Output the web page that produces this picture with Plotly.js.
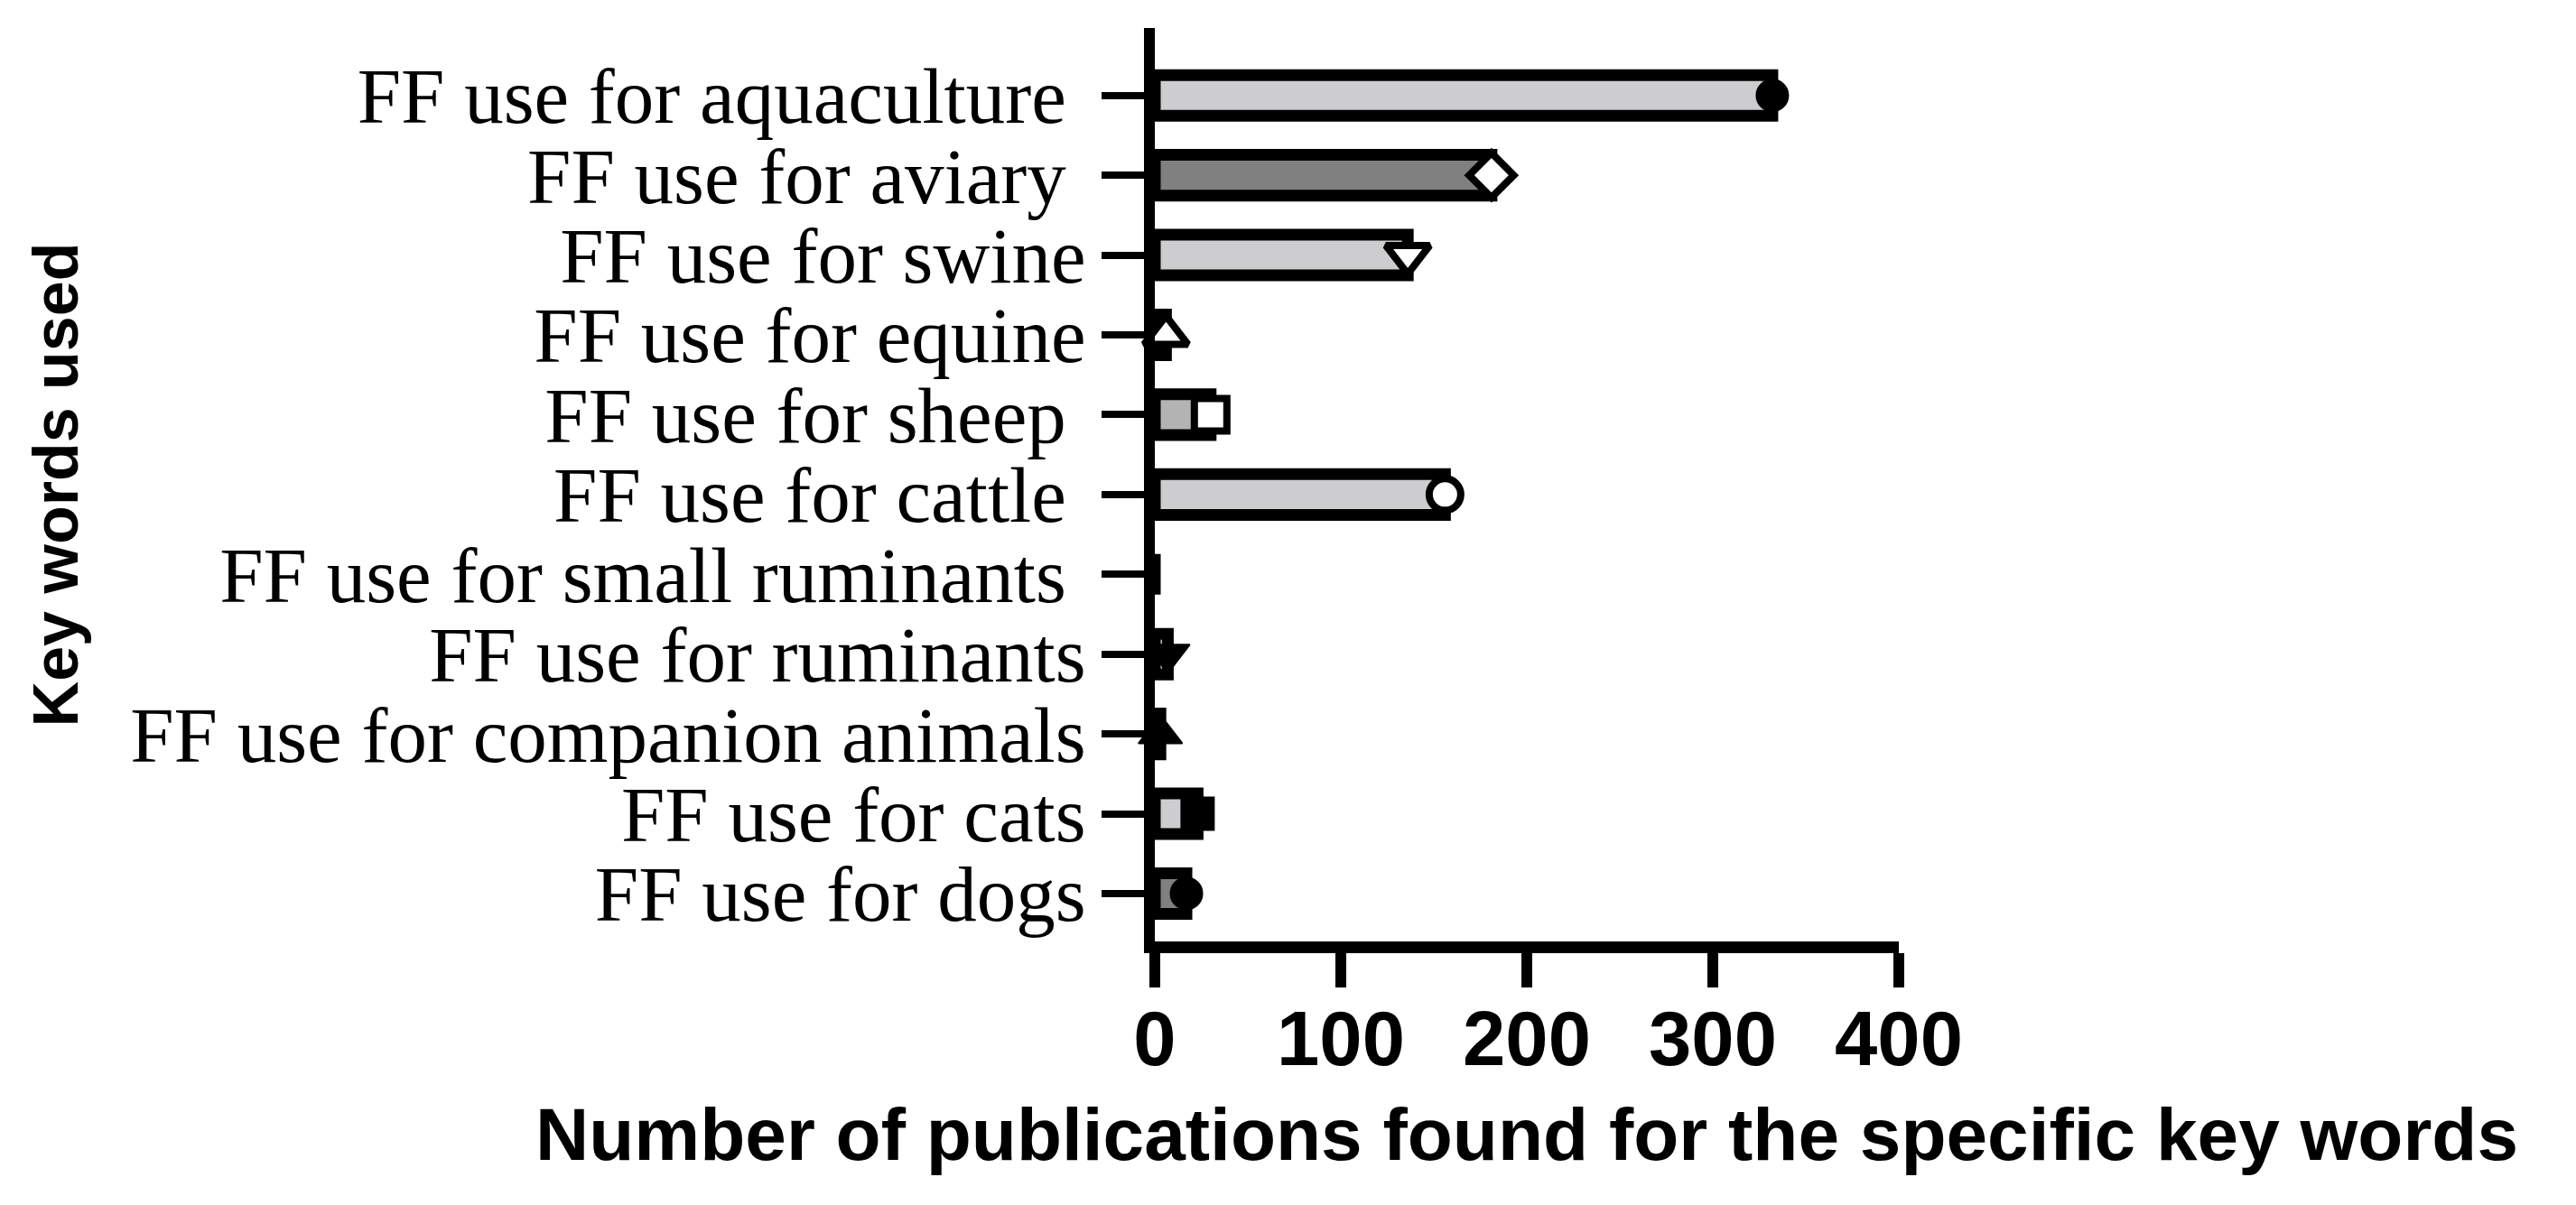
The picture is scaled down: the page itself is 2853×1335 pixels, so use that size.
<!DOCTYPE html>
<html>
<head>
<meta charset="utf-8">
<script src="https://cdn.plot.ly/plotly-3.0.1.min.js"></script>
<style>
  html, body { margin: 0; padding: 0; background: #fff; }
  #chart { width: 2853px; height: 1335px; }
</style>
</head>
<body>
<div id="chart"></div>
<script>
// Key words, bottom to top (first category sits at the bottom of the axis)
const keywords = [
  'FF use for dogs',
  'FF use for cats',
  'FF use for companion animals',
  'FF use for ruminants',
  'FF use for small ruminants\u00a0',
  'FF use for cattle\u00a0',
  'FF use for sheep\u00a0',
  'FF use for equine',
  'FF use for swine',
  'FF use for aviary\u00a0',
  'FF use for aquaculture\u00a0'
];

// Number of publications found per key word
const publications = [17, 23, 3, 7, 0, 156, 30, 6, 136, 181, 332];

// Bar fill per key word
const fills = ['#808080', '#cdcdcf', '#b3b3b3', '#cdcdcf', '#cdcdcf', '#cdcdcf',
               '#b3b3b3', '#cdcdcf', '#cdcdcf', '#808080', '#cdcdcf'];

// Point symbol per key word (null = no point drawn)
const pointSymbols = ['circle', 'square', 'triangle-up', 'triangle-down', null, 'circle-open',
                      'square-open', 'triangle-up-open', 'triangle-down-open', 'diamond-open', 'circle'];

// marker size per base shape
const shapeSize = { 'circle': 35, 'square': 36, 'triangle-up': 42, 'triangle-down': 42, 'diamond': 38 };

const font = 'Liberation Sans, Arial, sans-serif';
const serif = 'Liberation Serif, Times New Roman, serif';

// points: only the key words that have a symbol
const px = [], py = [], psym = [], psize = [], pfill = [], pline = [];
pointSymbols.forEach((s, i) => {
  if (!s) return;
  const open = s.endsWith('-open');
  const base = s.replace('-open', '');
  px.push(publications[i]);
  py.push(keywords[i]);
  psym.push(base);
  psize.push(shapeSize[base]);
  pfill.push(open ? '#ffffff' : '#000000');
  pline.push(open ? 8 : 2);
});

const bars = {
  type: 'bar',
  orientation: 'h',
  x: publications,
  y: keywords,
  width: 0.51,
  marker: { color: fills, line: { color: '#000', width: 13 } },
  hoverinfo: 'x+y'
};

const points = {
  type: 'scatter',
  mode: 'markers',
  x: px,
  y: py,
  cliponaxis: false,
  marker: {
    symbol: psym,
    size: psize,
    opacity: 1,
    color: pfill,
    line: { color: '#000', width: pline }
  },
  hoverinfo: 'x+y'
};

const layout = {
  width: 2853,
  height: 1335,
  margin: { l: 1279, r: 750, t: 31, b: 292 },
  paper_bgcolor: '#fff',
  plot_bgcolor: '#fff',
  showlegend: false,
  xaxis: {
    range: [0, 400],
    tickvals: [0, 100, 200, 300, 400],
    showline: true, linewidth: 13, linecolor: '#000',
    ticks: 'outside', ticklen: 38, tickwidth: 12, tickcolor: '#000',
    showgrid: false, zeroline: false,
    ticklabelstandoff: -16,
    tickfont: { family: font, size: 85, weight: 'bold', color: '#000' },
    title: {
      text: 'Number of publications found for the specific key words',
      font: { family: font, size: 82, weight: 'bold', color: '#000' },
      standoff: 36
    }
  },
  yaxis: {
    type: 'category',
    categoryorder: 'array',
    categoryarray: keywords,
    tickmode: 'array',
    tickvals: keywords,
    ticktext: keywords,
    range: [-0.6, 10.845],
    showline: true, linewidth: 12, linecolor: '#000',
    ticks: 'outside', ticklen: 47, tickwidth: 8, tickcolor: '#000',
    showgrid: false, zeroline: false,
    tickfont: { family: serif, size: 87, color: '#000' },
    title: {
      text: 'Key words used',
      font: { family: font, size: 70, weight: 'bold', color: '#000' },
      standoff: 40
    }
  }
};

Plotly.newPlot('chart', [bars, points], layout, { displayModeBar: false, staticPlot: true });
</script>
</body>
</html>
